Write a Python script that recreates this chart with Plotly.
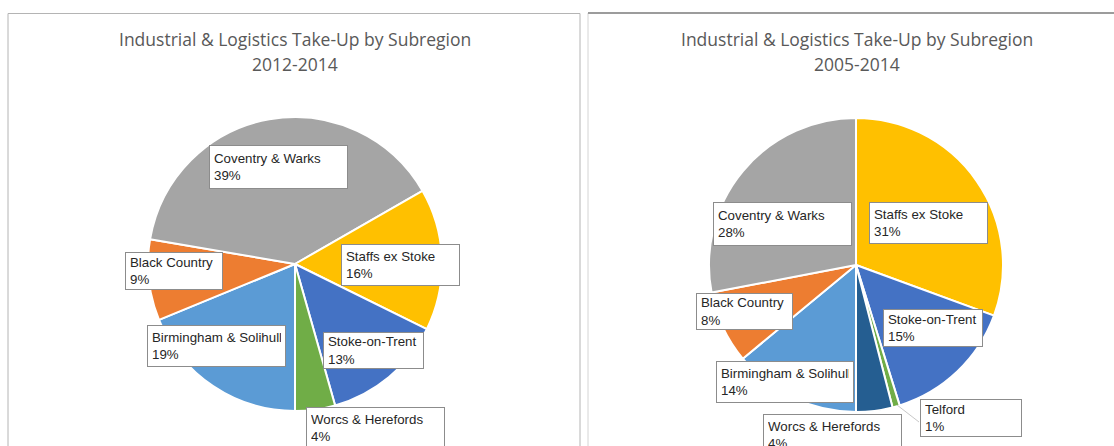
import plotly.graph_objects as go

W, H = 1114, 446

# ---------------- data ----------------
subregions_a = ["Birmingham & Solihull", "Black Country", "Coventry & Warks",
                "Staffs ex Stoke", "Stoke-on-Trent", "Worcs & Herefords"]
share_a = [18.8, 8.9, 39.0, 15.6, 13.3, 4.4]          # 2012-2014, %

subregions_b = ["Birmingham & Solihull", "Black Country", "Coventry & Warks",
                "Staffs ex Stoke", "Stoke-on-Trent", "Telford", "Worcs & Herefords"]
share_b = [14.0, 8.0, 28.0, 30.6, 14.6, 0.8, 4.0]       # 2005-2014, %

title_main = "Industrial & Logistics Take-Up by Subregion"
period_a = "2012-2014"
period_b = "2005-2014"

# ---------------- styles ----------------
colors = {
    "Birmingham & Solihull": "#5B9BD5",
    "Black Country": "#ED7D31",
    "Coventry & Warks": "#A5A5A5",
    "Staffs ex Stoke": "#FFC000",
    "Stoke-on-Trent": "#4472C4",
}
colors_a = dict(colors, **{"Worcs & Herefords": "#70AD47"})
colors_b = dict(colors, **{"Telford": "#70AD47", "Worcs & Herefords": "#255E91"})

# label box layout (pixels: left, top, width, height)
boxes_a = {
    "Coventry & Warks": (209, 145, 139, 44),
    "Staffs ex Stoke": (341, 244, 119, 42),
    "Black Country": (125, 252, 98, 38),
    "Birmingham & Solihull": (147, 325, 139, 42),
    "Stoke-on-Trent": (323, 332, 101, 37),
    "Worcs & Herefords": (306, 407, 139, 42),
}
boxes_b = {
    "Coventry & Warks": (713, 202, 139, 44),
    "Staffs ex Stoke": (869, 202, 119, 42),
    "Black Country": (696, 293, 97, 37),
    "Stoke-on-Trent": (883, 309, 100, 38),
    "Birmingham & Solihull": (716, 361, 138, 42),
    "Worcs & Herefords": (763, 414, 139, 42),
    "Telford": (920, 399, 102, 38),
}


def px(x):
    return x / W


def py(y):
    return 1 - y / H


fig = go.Figure()

pies = [
    (subregions_a, share_a, colors_a, (295, 264, 147)),
    (subregions_b, share_b, colors_b, (856, 265, 147)),
]
for labels, vals, cmap, (cx, cy, r) in pies:
    fig.add_trace(go.Pie(
        labels=labels, values=vals, sort=False, direction="clockwise", rotation=180,
        marker=dict(colors=[cmap[l] for l in labels], line=dict(color="white", width=2)),
        textinfo="none", showlegend=False,
        domain=dict(x=[px(cx - r), px(cx + r)], y=[py(cy + r), py(cy - r)]),
    ))

annotations = []
title_font = dict(family="Open Sans", size=17.5, color="#595959")
for cx, period in [(295, period_a), (857, period_b)]:
    annotations.append(dict(text=title_main, x=px(cx), y=py(39), xref="paper", yref="paper",
                            xanchor="center", yanchor="middle", showarrow=False, font=title_font))
    annotations.append(dict(text=period, x=px(cx), y=py(64), xref="paper", yref="paper",
                            xanchor="center", yanchor="middle", showarrow=False, font=title_font))

pad, bw = 4, 1
for labels, vals, boxes in [(subregions_a, share_a, boxes_a), (subregions_b, share_b, boxes_b)]:
    for lab, v in zip(labels, vals):
        bx, by, bwid, bh = boxes[lab]
        annotations.append(dict(
            text=f"{lab}<br>{round(v)}%", x=px(bx), y=py(by), xref="paper", yref="paper",
            xanchor="left", yanchor="top", showarrow=False, align="left", valign="middle",
            width=bwid - 2 * pad - 2 * bw, height=bh - 2 * pad - 2 * bw,
            borderpad=pad, borderwidth=bw, bordercolor="#8c8c8c", bgcolor="white",
            font=dict(family="Liberation Sans, Arial", size=13.3, color="#262626"),
        ))

shapes = [
    # left panel
    dict(type="rect", xref="paper", yref="paper", x0=px(8), x1=px(580), y0=py(480), y1=py(13.5),
         line=dict(color="#b4b4b4", width=1), layer="below"),
    # right panel
    dict(type="rect", xref="paper", yref="paper", x0=px(588), x1=px(1130), y0=py(480), y1=py(13),
         line=dict(color="#d4d4d4", width=1), layer="below"),
    dict(type="line", xref="paper", yref="paper", x0=px(588), x1=px(1114), y0=py(13), y1=py(13),
         line=dict(color="#9c9c9c", width=2)),
    # Telford leader line
    dict(type="line", xref="paper", yref="paper", x0=px(919), x1=px(897), y0=py(422), y1=py(405),
         line=dict(color="#c8c8c8", width=1)),
]

fig.update_layout(
    width=W, height=H, margin=dict(l=0, r=0, t=0, b=0),
    paper_bgcolor="white", plot_bgcolor="white",
    annotations=annotations, shapes=shapes,
)

fig.write_html("out.html", config={"displayModeBar": False},
               post_script="document.body.style.margin='0';")
